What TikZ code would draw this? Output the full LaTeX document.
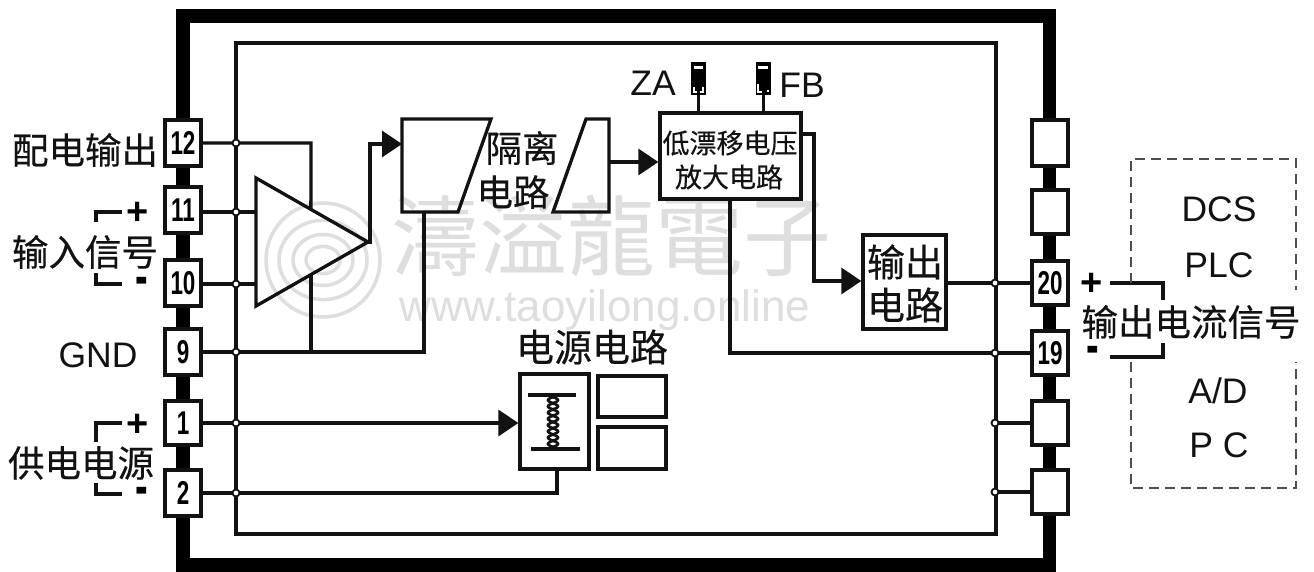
\documentclass[tikz,border=0pt]{standalone}
\usepackage{graphicx}
\usepackage{fontspec}
\setmainfont{Liberation Sans}
\newfontfamily\cjk[FakeBold=0.35]{Noto Sans CJK SC}
\newfontfamily\cjktc{Noto Sans CJK TC}
\usetikzlibrary{arrows.meta,calc}
\newcommand\tnum[1]{\scalebox{0.68}[1]{\fontsize{33}{33}\selectfont\bfseries #1}}
\definecolor{wm}{gray}{0.87}
\definecolor{ink}{gray}{0.07}
\tikzset{
  x=1pt,y=-1pt,
  wire/.style={draw=ink,line width=3.3pt},
  awire/.style={wire,-{Triangle[length=20pt,width=26pt]}},
  term/.style={draw=ink,fill=white,line width=3.3pt,minimum width=36pt,minimum height=44pt,inner sep=0pt},
  junc/.style={circle,draw=ink,fill=white,line width=1.8pt,minimum size=7pt,inner sep=0pt},
  block/.style={draw=ink,fill=white,line width=3.3pt,inner sep=0pt},
  cn/.style={text=ink,inner sep=0pt,font=\cjk\fontsize{36.5}{38}\selectfont},
  cnb/.style={text=ink,inner sep=0pt,font=\cjk\fontsize{38}{40}\selectfont},
  cns/.style={text=ink,inner sep=0pt,font=\cjk\fontsize{27}{30}\selectfont},
  lat/.style={text=ink,inner sep=0pt,font=\fontsize{35.5}{37}\selectfont},
  sign/.style={text=black,inner sep=0pt,font=\fontsize{38}{38}\selectfont\bfseries},
  jump/.style={black,fill=black,line width=0pt,minimum width=15pt,minimum height=33pt,inner sep=0pt},
  dash box/.style={draw=ink!75,line width=2.5pt,dash pattern=on 10pt off 6pt},
}
\begin{document}
\begin{tikzpicture}
\useasboundingbox (0,0) rectangle (1314,572);
\fill[white] (0,0) rectangle (1314,572);
% watermark
\foreach \rr/\ss in {57/1.0,44/0.9,30/0.85,17/0.8}{
  \draw[wm,line width=3.5pt] (323,260) ellipse [x radius=\rr,y radius=\ss*\rr];
}
\node[inner sep=0pt,text=wm,font=\cjktc\fontsize{88}{92}\selectfont] (wmark) at (611,236) {濤溢龍電子};
\node[inner sep=0pt,text=wm,font=\fontsize{44}{46}\selectfont] (wurl) at (605,310) {www.taoyilong.online};
% frames
\draw[black,line width=13.5pt] (183,16) rectangle (1049.5,565);
\node[draw=ink,line width=3.3pt,minimum width=760pt,minimum height=491pt,inner sep=0pt] (inner) at (616,288.5) {};
% left terminals
\node[term,minimum height=46pt] (t12) at (183,143) {\tnum{12}};
\node[term,minimum height=46pt] (t11) at (183,210) {\tnum{11}};
\node[term,minimum height=46pt] (t10) at (183,283) {\tnum{10}};
\node[term,minimum height=46pt] (t9) at (183,352) {\tnum{9}};
\node[term] (t1) at (183,423) {\tnum{1}};
\node[term,minimum height=46pt] (t2) at (183,493) {\tnum{2}};
% right terminals
\node[term,minimum height=46pt] (r1) at (1050,143) {};
\node[term] (r2) at (1050,212) {};
\node[term] (t20) at (1050,283) {\tnum{20}};
\node[term] (t19) at (1050,353) {\tnum{19}};
\node[term] (r5) at (1050,423) {};
\node[term] (r6) at (1050,492) {};
% amplifier
\coordinate (ampA) at (256,178);
\coordinate (ampB) at (368,242);
\coordinate (ampC) at (256,306);
\coordinate (ampT) at ($(ampA)!0.49!(ampB)$);
\coordinate (ampU) at ($(ampC)!0.49!(ampB)$);
\draw[wire,line join=miter] (ampA) -- (ampB) -- (ampC) -- cycle;
% isolation shapes
\draw[block,fill=none,line join=miter] (402,119) coordinate (isoA) -- (491,119) -- (458,212) -- (402,212) -- cycle;
\coordinate (isoB) at (424,212);
\coordinate (isoIn) at (402,144);
\draw[block,fill=none,line join=miter] (586,119) -- (609,119) -- (609,212) -- (553,212) -- cycle;
\coordinate (isoOut) at (609,162);
% blocks
\node[block,minimum width=141pt,minimum height=86pt] (lowamp) at (730.5,156) {};
\node[block,minimum width=83pt,minimum height=94pt] (outc) at (904.5,282) {};
\node[block,minimum width=69pt,minimum height=95pt] (psu) at (554.5,421.5) {};
\node[block,minimum width=68pt,minimum height=41pt] (psa) at (632,396.5) {};
\node[block,minimum width=68pt,minimum height=42pt] (psb) at (632,448) {};
% jumpers
\node[jump] (za) at (698.5,78.5) {};
\node[jump] (fb) at (763.5,78.5) {};
\fill[white] (694,66) rectangle (703,69);
\fill[white] (758,66) rectangle (768,69);
\draw[white,line width=1.2pt] (694,87) -- (694,92) -- (697,92) (703,87) -- (703,92) -- (700,92);
\draw[white,line width=1.2pt] (758,84) -- (758,92) -- (762,92) (768,90) -- (768,92);
\draw[wire] (za.south) -- (za.south |- lowamp.north);
\draw[wire,line width=2.5pt] (fb.south) -- (fb.south |- lowamp.north);
% wires
\draw[wire] (t12.east) -- (311,143) -- (ampT);
\draw[wire] (t11.east |- 0,212) -- (ampA |- 0,212);
\draw[wire] (t10.east |- 0,284) -- (ampA |- 0,284);
\draw[wire] (t9.east) -- (isoB |- t9.east) -- (isoB);
\draw[wire] (ampU) -- (ampU |- t9.east);
\draw[awire] (ampB) -- (370,242) -- (370,144) -- (isoIn);
\draw[awire] (isoOut) -- (lowamp.west |- isoOut);
\draw[wire,-{Triangle[length=20pt,width=26pt]}] (lowamp.east |- 0,134) -- (814,134) -- (814,281) -- (outc.west |- 0,281);
\draw[wire] (outc.east |- t20.west) -- (t20.west);
\draw[wire] (730,199) -- (730,353) -- (t19.west);
\draw[awire] (t1.east) -- (psu.west |- t1.east);
\draw[wire] (t2.east) -- (557,493) -- (557,469);
\draw[wire] (r5.west) -- (996,423);
\draw[wire] (r6.west) -- (996,492);
% junctions
\foreach \n/\a in {a/143,b/212,c/284,d/352,e/423,f/493}{
  \node[junc] (jl\n) at (236,\a) {};
}
\foreach \n/\a in {a/t20,b/t19,c/r5,d/r6}{
  \node[junc] (jr\n) at (995,0 |- \a.west) {};
}
% transformer
\draw[wire] (528,395) -- (576,395);
\draw[wire] (531,449) -- (580,449);
\draw[ink,line width=2.7pt,domain=0:1,samples=80,smooth] plot ({553+5*sin(1440*\x)},{397+50*\x});
\draw[ink,line width=2.7pt,domain=0:1,samples=80,smooth] plot ({553-5*sin(1440*\x)},{397+50*\x});
% brackets
\coordinate (bA1) at (96,222); \coordinate (bA2) at (122,212);
\coordinate (bB1) at (96,273); \coordinate (bB2) at (122,284);
\coordinate (bC1) at (96,442); \coordinate (bC2) at (122,423);
\coordinate (bD1) at (96,483); \coordinate (bD2) at (122,494);
\draw[wire,line join=miter] (bA1) |- (bA2);
\draw[wire,line join=miter] (bB1) |- (bB2);
\draw[wire,line join=miter] (bC1) |- (bC2);
\draw[wire,line join=miter] (bD1) |- (bD2);
\coordinate (bE1) at (1110,283); \coordinate (bE2) at (1163,300);
\coordinate (bF1) at (1110,357); \coordinate (bF2) at (1163,343);
\draw[wire,line join=miter] (bE1) -| (bE2);
\draw[wire,line join=miter] (bF1) -| (bF2);
% dashed box
\coordinate (dA) at (1131,283); \coordinate (dB) at (1296,290);
\coordinate (dC) at (1131,362); \coordinate (dD) at (1296,362);
\draw[dash box] (dA) |- (1296,159) -- (dB);
\draw[dash box] (dC) |- (1296,488) -- (dD);
% signs
\node[sign] (p1) at (138,213) {+};
\node[sign] (m1) at (142,286) {\scalebox{1}[1.5]{-}};
\node[sign] (p2) at (138,425) {+};
\node[sign] (m2) at (142,496) {\scalebox{1}[1.5]{-}};
\node[sign] (p3) at (1092,284) {+};
\node[sign] (m3) at (1093,355) {\scalebox{1}[1.5]{-}};
% labels
\node[cn] (l1) at (85,150) {配电输出};
\node[cn] (l2) at (85,252) {输入信号};
\node[lat] (l3) at (98,355) {GND};
\node[cn] (l4) at (81,463) {供电电源};
\node[cn] (l5) at (522,148) {隔离};
\node[cn] (l6) at (513,192) {电路};
\node[cns] (l7) at (730,143) {低漂移电压};
\node[cns] (l8) at (729,177) {放大电路};
\node[cnb] (l9) at (905,262) {输出};
\node[cnb] (l10) at (905,305) {电路};
\node[cnb] (l11) at (592,347) {电源电路};
\node[cn] (l12) at (1191,322) {输出电流信号};
\node[lat] (za2) at (653,83) {ZA};
\node[lat] (fb2) at (802,85) {FB};
\node[lat] (d1) at (1219,209) {DCS};
\node[lat] (d2) at (1219,265) {PLC};
\node[lat] (d3) at (1218,391) {A/D};
\node[lat] (d4) at (1219,445) {P C};
\end{tikzpicture}
\end{document}
